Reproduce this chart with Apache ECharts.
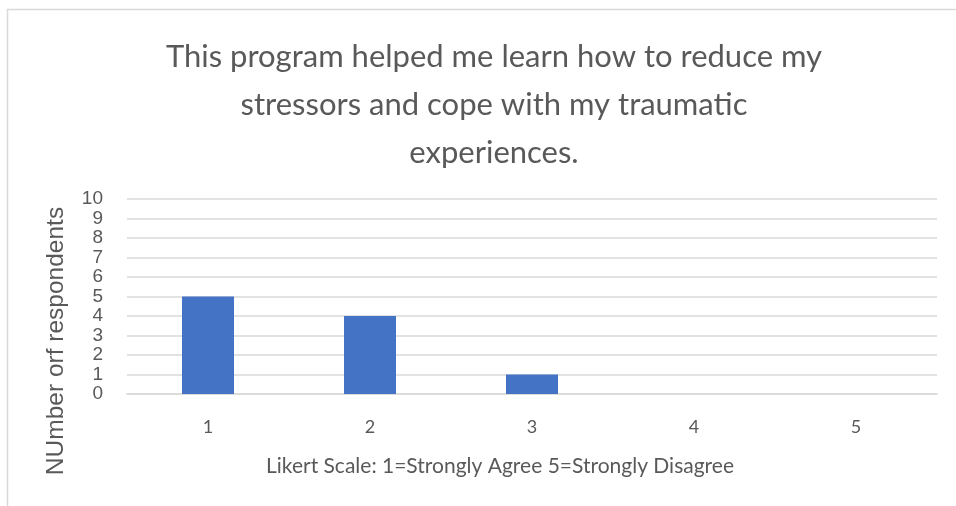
<!DOCTYPE html>
<html>
<head>
<meta charset="utf-8">
<script src="https://cdn.jsdelivr.net/npm/echarts@6/dist/echarts.min.js"></script>
<style>
  html, body { margin: 0; padding: 0; background: #fff; }
  #chart { width: 956px; height: 506px; }
</style>
</head>
<body>
<div id="chart"></div>
<script>
const categories = ["1", "2", "3", "4", "5"];
const respondents = [5, 4, 1, 0, 0];
const titleLines = [
    "This program helped me learn how to reduce my",
    "stressors and cope with my traumatic",
    "experiences."
];
const yAxisTitle = "NUmber orf respondents";
const xAxisTitle = "Likert Scale: 1=Strongly Agree 5=Strongly Disagree";

const textGray = "#595959";
const gridGray = "#d9d9d9";

const chart = echarts.init(document.getElementById("chart"), null, { renderer: "canvas" });

const option = {
    animation: false,
    backgroundColor: "#fff",
    title: {
        text: titleLines.join("\n"),
        left: 489,
        top: 28,
        textAlign: "center",
        textStyle: {
            color: textGray,
            fontFamily: "Lato",
            fontWeight: "normal",
            fontSize: 31,
            lineHeight: 48
        }
    },
    grid: {
        left: 127,
        right: 19,
        top: 199,
        bottom: 112,
        containLabel: false
    },
    xAxis: {
        type: "category",
        data: categories,
        axisLine: { show: true, lineStyle: { color: gridGray, width: 1.5 } },
        axisTick: { show: false },
        axisLabel: {
            color: textGray,
            fontFamily: "Lato",
            fontSize: 18,
            margin: 24
        }
    },
    yAxis: {
        type: "value",
        min: 0,
        max: 10,
        interval: 1,
        axisLine: { show: false },
        axisTick: { show: false },
        splitLine: { show: true, lineStyle: { color: gridGray, width: 1.5 } },
        axisLabel: {
            color: textGray,
            fontFamily: "Liberation Sans",
            fontSize: 19,
            lineHeight: 18,
            margin: 24
        }
    },
    series: [{
        name: "respondents",
        type: "bar",
        data: respondents,
        barWidth: 52,
        itemStyle: { color: "#4472C4" }
    }],
    graphic: [
        {
            type: "rect",
            shape: { x: 7.5, y: 9.5, width: 1000, height: 600 },
            style: { fill: null, stroke: gridGray, lineWidth: 1.5 },
            silent: true
        },
        {
            type: "text",
            x: 56,
            y: 341,
            rotation: Math.PI / 2,
            style: {
                text: yAxisTitle,
                fill: textGray,
                font: "24.5px 'Liberation Sans'",
                align: "center",
                verticalAlign: "middle"
            }
        },
        {
            type: "text",
            x: 500,
            y: 466,
            style: {
                text: xAxisTitle,
                fill: textGray,
                font: "21px Lato",
                align: "center",
                verticalAlign: "middle"
            }
        }
    ]
};

chart.setOption(option);
</script>
</body>
</html>
